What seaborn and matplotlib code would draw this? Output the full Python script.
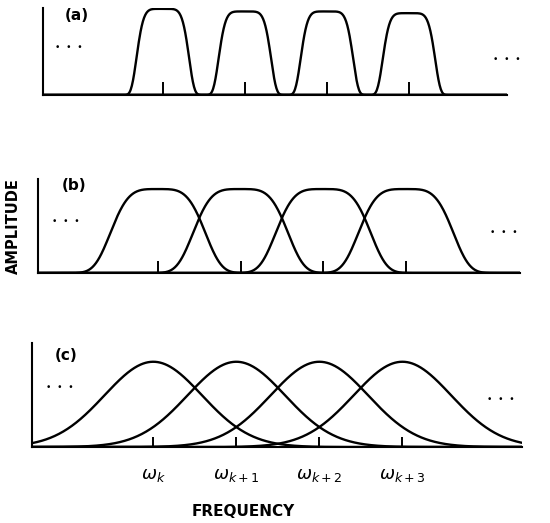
import numpy as np
import pandas as pd
import matplotlib
matplotlib.use("Agg")
import matplotlib.pyplot as plt
import seaborn as sns

# ---- data ----
centers = [1, 2, 3, 4]                       # filter centre frequencies (w_k ... w_k+3)
tick_labels = [r"$\omega_k$", r"$\omega_{k+1}$", r"$\omega_{k+2}$", r"$\omega_{k+3}$"]
amp_a = [1.0, 0.97, 0.97, 0.95]              # peak amplitudes, panel (a)
amp_b = [1.0, 1.0, 1.0, 1.0]                 # panel (b)
amp_c = [1.0, 1.0, 1.0, 1.0]                 # panel (c)
width_a, power_a = 0.33, 6.0                 # narrow flat-topped band-pass filters
width_b, power_b = 0.62, 4.0                 # wider flat-topped, overlapping
width_c, power_c = 0.83, 2.0                 # gaussian, strongly overlapping
panel_names = ["(a)", "(b)", "(c)"]

sns.set_style("ticks")
plt.rcParams["font.family"] = ["DejaVu Sans"]
plt.rcParams["text.color"] = "black"
plt.rcParams["xtick.color"] = "black"

fig = plt.figure(figsize=(5.5, 5.23), dpi=100)

# axes rectangles [left, bottom, width, height]
rects = [
    [43/550, 1-95/523, (507-43)/550, 87/523],
    [38/550, 1-273/523, (520-38)/550, 94/523],
    [32/550, 1-447/523, (522-32)/550, 104/523],
]
xlims = [(-0.46, 5.195), (-0.45, 5.38), (-0.46, 5.44)]
ylims = [1.01, 1.12, 1.22]
params = [(amp_a, width_a, power_a), (amp_b, width_b, power_b), (amp_c, width_c, power_c)]
ticklens = [9.5, 9, 7.5]

for i, (rect, xl, yt, (amps, w, p)) in enumerate(zip(rects, xlims, ylims, params)):
    ax = fig.add_axes(rect)
    x = np.linspace(xl[0], xl[1], 800)
    rows = []
    for j, (c, a) in enumerate(zip(centers, amps)):
        y = a * np.exp(-np.abs((x - c) / w) ** p)
        rows.append(pd.DataFrame({"freq": x, "amp": y, "band": j}))
    df = pd.concat(rows, ignore_index=True)
    sns.lineplot(data=df, x="freq", y="amp", hue="band", palette=["black"] * 4,
                 legend=False, linewidth=1.7, ax=ax, estimator=None)
    ax.set_xlim(*xl)
    ax.set_ylim(0, yt)
    ax.set_xlabel("")
    ax.set_ylabel("")
    for s in ["top", "right"]:
        ax.spines[s].set_visible(False)
    for s in ["left", "bottom"]:
        ax.spines[s].set_linewidth(1.5)
        ax.spines[s].set_color("black")
    ax.set_yticks([])
    ax.set_xticks(centers)
    ax.tick_params(axis="x", direction="in", length=ticklens[i], width=1.4,
                   color="black", labelcolor="black")
    if i == 2:
        ax.set_xticklabels(tick_labels, fontsize=13, fontweight="bold")
        ax.tick_params(axis="x", pad=14)
    else:
        ax.set_xticklabels([])
    ax.patch.set_alpha(0)

# panel labels
fig.text(65/550, 1-16/523, "(a)", fontsize=11, fontweight="bold", va="center", ha="left")
fig.text(62/550, 1-185/523, "(b)", fontsize=11, fontweight="bold", va="center", ha="left")
fig.text(55/550, 1-355/523, "(c)", fontsize=11, fontweight="bold", va="center", ha="left")

# ellipses
dots = [(55, 48), (493, 60), (52, 222), (490, 232), (46, 388), (487, 399)]
for dx, dy in dots:
    fig.text(dx/550, 1-dy/523, "\u2022  \u2022  \u2022", fontsize=6.5, va="center", ha="left")

# axis titles
fig.text(13/550, 1-226/523, "AMPLITUDE", rotation=90, fontsize=10.5, fontweight="bold",
         va="center", ha="center")
fig.text(243/550, 1-512/523, "FREQUENCY", fontsize=11, fontweight="bold",
         va="center", ha="center")

fig.savefig("out.png", dpi=100)
